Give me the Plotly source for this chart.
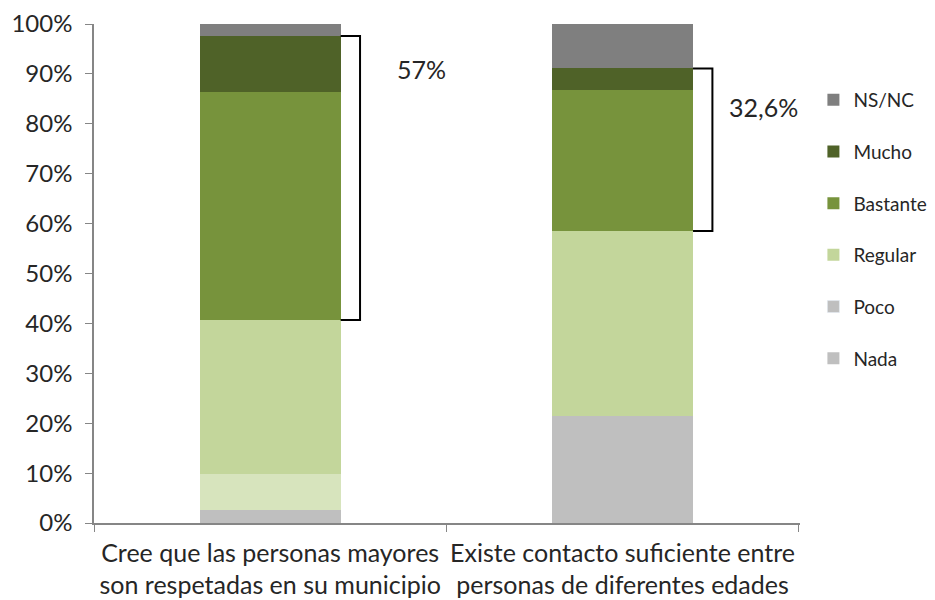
import plotly.graph_objects as go

categories = ["Cree que las personas mayores<br>son respetadas en su municipio",
              "Existe contacto suficiente entre<br>personas de diferentes edades"]

nada = [2.6, 21.4]
poco = [7.3, 0.0]
regular = [30.8, 37.1]
bastante = [45.6, 28.3]
mucho = [11.3, 4.3]
nsnc = [2.4, 8.9]

bracket_labels = ["57%", "32,6%"]

font = "Lato, 'Open Sans', sans-serif"
txt = "#262626"

series = [
    ("Nada", nada, "#BFBFBF"),
    ("Poco", poco, ["#D7E4BD", "#BFBFBF"]),
    ("Regular", regular, "#C3D69B"),
    ("Bastante", bastante, "#77933C"),
    ("Mucho", mucho, "#4F6228"),
    ("NS/NC", nsnc, "#7F7F7F"),
]

fig = go.Figure()
for rank, (name, vals, col) in enumerate(series):
    multi = isinstance(col, list)
    fig.add_trace(go.Bar(
        x=categories, y=vals, name=name, width=0.4,
        marker=dict(color=col, line=dict(width=0)),
        showlegend=not multi, legendgroup=name, legendrank=100 - rank,
    ))
    if multi:
        # legend swatch shows the gray colour only
        fig.add_trace(go.Bar(x=[categories[0]], y=[None], name=name,
                             marker=dict(color="#BFBFBF"), legendgroup=name,
                             legendrank=100 - rank))

# brackets spanning Bastante + Mucho
for i, lab in enumerate(bracket_labels):
    low = nada[i] + poco[i] + regular[i]
    high = low + bastante[i] + mucho[i]
    xv = i + 0.255
    fig.add_shape(type="path", xref="x", yref="y",
                  path=f"M {i+0.2},{high} L {xv},{high} L {xv},{low} L {i+0.2},{low}",
                  line=dict(color="black", width=2))

fig.add_annotation(x=0.43, y=91, xref="x", yref="y", text=bracket_labels[0],
                   showarrow=False, font=dict(size=25, color=txt, family=font))
fig.add_annotation(x=1.40, y=83.3, xref="x", yref="y", text=bracket_labels[1],
                   showarrow=False, font=dict(size=25, color=txt, family=font))

fig.update_layout(
    barmode="stack",
    width=927, height=592,
    margin=dict(l=86, r=135, t=16, b=77, autoexpand=False),
    plot_bgcolor="white", paper_bgcolor="white",
    font=dict(family=font, color=txt),
    legend=dict(x=1.019, y=0.886, xanchor="left", yanchor="top",
                traceorder="grouped", tracegroupgap=24,
                font=dict(size=19, color=txt, family=font)),
    xaxis=dict(showline=True, linecolor="#868686", linewidth=1.5,
               ticks="outside", tickson="boundaries", ticklen=7, tickcolor="#868686",
               tickfont=dict(size=25, color=txt), tickangle=0, automargin=False,
               ticklabelstandoff=7, showgrid=False),
    yaxis=dict(range=[0, 100], dtick=10, ticksuffix="%", showline=True,
               linecolor="#868686", linewidth=1.5, ticks="outside", ticklen=7,
               tickcolor="#868686", tickfont=dict(size=24, color=txt),
               ticklabelstandoff=8, automargin=False, showgrid=False, zeroline=False),
)

fig.write_html("out.html")
